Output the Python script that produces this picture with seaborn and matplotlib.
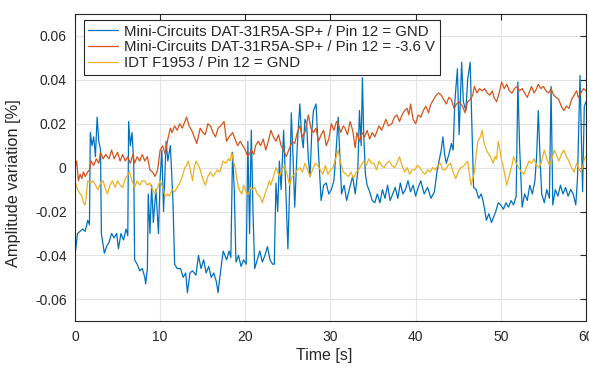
#!/usr/bin/env python3
# -*- coding: utf-8 -*-
"""
Amplitude variation over time for three attenuator configurations
"""

#%% Import modules

import pandas as pd
import seaborn as sns
import matplotlib.pyplot as plt
from matplotlib.ticker import FuncFormatter


#%% Data (time in s, amplitude variation in %)

t_gnd = [0.0, 0.3, 0.6, 0.9, 1.2, 1.5, 1.7, 1.8, 2.0, 2.2, 2.4, 2.6, 2.8, 3.0, 3.1, 3.45, 3.7, 4.0, 4.3, 4.6,
         4.9, 5.1, 5.4, 5.7, 6.0, 6.2, 6.3, 6.5, 6.7, 6.9, 7.0, 7.3, 7.6, 7.9, 8.2, 8.3, 8.5, 8.6, 8.8, 9.0,
         9.2, 9.5, 9.8, 10.0, 10.2, 10.4, 10.7, 10.9, 11.2, 11.5, 11.7, 12.0, 12.4, 12.7, 13.0, 13.2, 13.5, 13.8, 14.2, 14.5,
         14.8, 15.1, 15.4, 15.7, 16.0, 16.3, 16.6, 16.8, 17.1, 17.4, 17.8, 18.1, 18.3, 18.5, 18.7, 18.9, 19.2, 19.5, 19.8, 20.1,
         20.3, 20.5, 20.7, 20.9, 21.1, 21.4, 21.7, 22.0, 22.3, 22.6, 22.9, 23.2, 23.4, 23.6, 23.8, 24.0, 24.2, 24.5, 24.7, 25.0,
         25.2, 25.4, 25.6, 25.8, 26.1, 26.4, 26.6, 26.8, 27.0, 27.2, 27.4, 27.6, 27.8, 28.0, 28.3, 28.6, 28.9, 29.2, 29.5, 29.8,
         30.1, 30.4, 30.7, 30.9, 31.1, 31.3, 31.6, 31.9, 32.2, 32.6, 32.9, 33.2, 33.4, 33.6, 33.75, 33.9, 34.1, 34.3, 34.6, 34.9,
         35.2, 35.5, 35.8, 36.1, 36.4, 36.7, 37.0, 37.3, 37.6, 37.9, 38.2, 38.5, 38.8, 39.1, 39.4, 39.7, 40.0, 40.3, 40.6, 41.0,
         41.4, 41.8, 42.2, 42.5, 42.8, 43.0, 43.2, 43.4, 43.6, 43.9, 44.2, 44.4, 44.6, 44.9, 45.1, 45.4, 45.6, 45.9, 46.1, 46.4,
         46.6, 46.8, 47.1, 47.4, 47.7, 47.9, 48.1, 48.3, 48.6, 48.9, 49.1, 49.4, 49.7, 50.0, 50.3, 50.6, 50.9, 51.2, 51.5, 51.8,
         52.0, 52.2, 52.5, 52.8, 53.1, 53.4, 53.7, 54.0, 54.2, 54.4, 54.6, 54.8, 55.1, 55.4, 55.7, 55.9, 56.1, 56.4, 56.7, 57.0,
         57.3, 57.6, 57.9, 58.2, 58.5, 58.8, 59.0, 59.3, 59.6, 59.8, 60.0]
v_gnd = [-0.040, -0.030, -0.029, -0.028, -0.029, -0.024, -0.026, 0.016, 0.010, 0.014, 0.005, 0.023, 0.012, 0.008, -0.030, -0.039, -0.036, -0.034, -0.030, -0.032,
         -0.030, -0.037, -0.030, -0.033, -0.028, -0.031, 0.021, 0.010, 0.016, 0.002, -0.042, -0.044, -0.047, -0.046, -0.050, -0.053, -0.046, -0.012, -0.030, -0.008,
         -0.025, -0.010, -0.030, -0.005, 0.008, -0.020, 0.012, 0.003, 0.010, -0.015, -0.044, -0.046, -0.046, -0.050, -0.048, -0.057, -0.048, -0.047, -0.049, -0.040,
         -0.046, -0.042, -0.048, -0.045, -0.050, -0.048, -0.052, -0.057, -0.047, -0.038, -0.042, -0.038, -0.041, 0.007, -0.010, -0.043, -0.040, -0.045, -0.042, -0.044,
         0.012, -0.030, 0.017, -0.020, -0.046, -0.042, -0.038, -0.043, -0.040, -0.036, -0.042, -0.044, -0.044, -0.007, -0.020, 0.003, -0.010, 0.017, -0.005, -0.037,
         -0.010, 0.025, 0.005, -0.018, 0.010, 0.029, 0.015, 0.009, 0.022, 0.020, 0.004, -0.004, 0.016, 0.026, 0.029, 0.006, -0.015, -0.008, -0.007, -0.012,
         -0.010, -0.006, 0.010, 0.023, 0.005, -0.012, -0.008, -0.015, -0.010, -0.004, -0.012, -0.002, 0.026, 0.010, 0.041, 0.015, -0.003, -0.008, -0.011, -0.015,
         -0.016, -0.012, -0.016, -0.010, -0.014, -0.008, -0.015, -0.012, -0.009, -0.014, -0.007, -0.012, -0.010, -0.006, -0.011, -0.008, -0.013, -0.009, -0.006, -0.012,
         -0.009, -0.014, -0.011, -0.002, 0.004, 0.008, 0.014, 0.006, 0.002, 0.006, 0.011, 0.008, 0.030, 0.045, 0.015, 0.048, 0.030, 0.026, 0.040, 0.048,
         0.020, -0.009, -0.010, -0.014, -0.012, -0.015, -0.019, -0.024, -0.021, -0.025, -0.023, -0.020, -0.016, -0.017, -0.019, -0.016, -0.018, -0.015, -0.017, -0.013,
         0.039, 0.010, -0.018, -0.012, -0.015, -0.008, -0.012, -0.006, 0.005, 0.026, 0.005, -0.012, -0.016, -0.010, -0.014, 0.037, -0.017, -0.010, -0.013, -0.008,
         -0.012, -0.009, -0.013, -0.010, -0.012, -0.017, -0.005, 0.042, -0.011, 0.028, 0.030]

t_neg = [0.0, 0.2, 0.4, 0.6, 0.8, 1.0, 1.2, 1.5, 1.7, 1.9, 2.2, 2.5, 2.8, 3.0, 3.3, 3.6, 4.0, 4.3, 4.6, 5.0,
         5.3, 5.6, 5.9, 6.2, 6.5, 6.8, 7.0, 7.3, 7.6, 7.9, 8.2, 8.5, 8.8, 9.1, 9.4, 9.7, 10.0, 10.3, 10.6, 10.9,
         11.2, 11.4, 11.7, 12.0, 12.3, 12.6, 12.9, 13.1, 13.4, 13.7, 14.0, 14.3, 14.7, 15.0, 15.3, 15.6, 15.9, 16.2, 16.5, 16.8,
         17.1, 17.5, 17.8, 18.1, 18.5, 18.8, 19.1, 19.4, 19.7, 20.0, 20.3, 20.7, 21.0, 21.2, 21.5, 21.8, 22.1, 22.4, 22.7, 23.0,
         23.3, 23.6, 23.9, 24.2, 24.5, 24.8, 25.2, 25.5, 25.8, 26.1, 26.4, 26.7, 27.0, 27.2, 27.4, 27.7, 28.0, 28.3, 28.6, 28.9,
         29.2, 29.5, 29.8, 30.1, 30.4, 30.7, 30.9, 31.2, 31.5, 31.7, 32.0, 32.3, 32.6, 32.9, 33.1, 33.4, 33.7, 34.0, 34.3, 34.6,
         34.9, 35.2, 35.5, 35.7, 36.0, 36.3, 36.5, 36.8, 37.2, 37.5, 37.8, 38.1, 38.4, 38.7, 39.0, 39.2, 39.4, 39.7, 40.0, 40.3,
         40.6, 40.9, 41.2, 41.5, 41.8, 42.1, 42.4, 42.7, 43.0, 43.3, 43.6, 43.9, 44.2, 44.5, 44.8, 45.1, 45.5, 45.8, 46.1, 46.4,
         46.7, 46.9, 47.2, 47.5, 47.8, 48.1, 48.4, 48.7, 49.0, 49.2, 49.5, 49.8, 50.1, 50.4, 50.7, 51.0, 51.3, 51.6, 51.9, 52.2,
         52.5, 52.8, 53.1, 53.4, 53.6, 53.9, 54.2, 54.4, 54.7, 55.0, 55.3, 55.6, 55.9, 56.2, 56.5, 56.8, 57.1, 57.4, 57.7, 58.0,
         58.3, 58.6, 58.9, 59.1, 59.4, 59.7, 60.0]
v_neg = [0.000, 0.003, -0.006, -0.003, -0.005, -0.002, -0.004, -0.002, -0.001, 0.003, 0.001, 0.004, 0.002, 0.007, 0.004, 0.006, 0.004, 0.008, 0.004, 0.007,
         0.003, 0.006, 0.003, 0.005, 0.002, 0.006, 0.002, 0.005, 0.003, 0.006, 0.003, 0.005, -0.001, -0.002, -0.004, -0.001, 0.008, 0.010, 0.006, 0.013,
         0.018, 0.016, 0.019, 0.017, 0.020, 0.018, 0.021, 0.023, 0.019, 0.017, 0.014, 0.011, 0.018, 0.016, 0.015, 0.020, 0.019, 0.016, 0.014, 0.018,
         0.019, 0.021, 0.012, 0.014, 0.016, 0.013, 0.010, 0.012, 0.010, 0.008, 0.005, 0.008, 0.006, 0.010, 0.012, 0.010, 0.013, 0.008, 0.012, 0.017,
         0.014, 0.012, 0.015, 0.010, 0.008, 0.005, 0.009, 0.012, 0.011, 0.016, 0.019, 0.014, 0.016, 0.020, 0.024, 0.018, 0.016, 0.018, 0.012, 0.015,
         0.017, 0.010, 0.013, 0.020, 0.017, 0.021, 0.020, 0.016, 0.019, 0.018, 0.015, 0.021, 0.017, 0.009, 0.016, 0.012, 0.016, 0.014, 0.017, 0.013,
         0.016, 0.014, 0.017, 0.019, 0.017, 0.020, 0.022, 0.019, 0.020, 0.023, 0.024, 0.021, 0.024, 0.026, 0.027, 0.024, 0.029, 0.022, 0.020, 0.024,
         0.023, 0.026, 0.028, 0.025, 0.029, 0.031, 0.033, 0.034, 0.033, 0.031, 0.029, 0.032, 0.031, 0.027, 0.029, 0.030, 0.028, 0.025, 0.030, 0.031,
         0.033, 0.037, 0.034, 0.036, 0.035, 0.036, 0.034, 0.033, 0.035, 0.032, 0.030, 0.034, 0.039, 0.036, 0.038, 0.035, 0.034, 0.036, 0.037, 0.035,
         0.036, 0.034, 0.032, 0.035, 0.037, 0.034, 0.036, 0.038, 0.036, 0.037, 0.035, 0.034, 0.036, 0.033, 0.032, 0.031, 0.028, 0.026, 0.028, 0.027,
         0.031, 0.033, 0.035, 0.032, 0.034, 0.036, 0.035]

t_idt = [0.0, 0.3, 0.6, 0.8, 1.0, 1.2, 1.4, 1.5, 1.8, 2.1, 2.4, 2.7, 3.0, 3.3, 3.6, 3.8, 4.1, 4.4, 4.7, 5.0,
         5.3, 5.6, 5.9, 6.1, 6.4, 6.7, 7.0, 7.3, 7.6, 7.9, 8.2, 8.5, 8.8, 9.1, 9.4, 9.7, 10.0, 10.3, 10.6, 10.9,
         11.1, 11.4, 11.7, 12.0, 12.3, 12.6, 12.9, 13.1, 13.3, 13.6, 13.8, 14.0, 14.2, 14.5, 14.7, 15.0, 15.3, 15.6, 15.9, 16.2,
         16.4, 16.7, 17.0, 17.4, 17.7, 18.0, 18.2, 18.4, 18.6, 18.8, 19.0, 19.2, 19.4, 19.6, 19.8, 20.0, 20.2, 20.4, 20.6, 20.8,
         21.1, 21.4, 21.7, 22.0, 22.3, 22.6, 22.8, 23.0, 23.3, 23.6, 23.8, 24.0, 24.3, 24.6, 24.9, 25.2, 25.5, 25.8, 26.1, 26.4,
         26.7, 27.0, 27.3, 27.6, 27.9, 28.2, 28.5, 28.8, 29.1, 29.4, 29.7, 30.0, 30.3, 30.6, 30.9, 31.2, 31.5, 31.8, 32.1, 32.4,
         32.7, 33.0, 33.3, 33.6, 33.9, 34.2, 34.5, 34.8, 35.1, 35.4, 35.7, 36.0, 36.3, 36.6, 36.9, 37.2, 37.5, 37.8, 38.1, 38.4,
         38.7, 39.0, 39.3, 39.6, 39.9, 40.2, 40.5, 40.8, 41.1, 41.4, 41.7, 42.0, 42.3, 42.6, 42.9, 43.2, 43.5, 43.8, 44.1, 44.4,
         44.7, 45.0, 45.3, 45.7, 46.1, 46.5, 46.9, 47.1, 47.3, 47.6, 47.8, 48.0, 48.3, 48.6, 48.9, 49.1, 49.3, 49.5, 49.7, 49.9,
         50.1, 50.3, 50.5, 50.7, 50.9, 51.1, 51.3, 51.5, 51.8, 52.1, 52.4, 52.7, 53.0, 53.3, 53.6, 53.9, 54.2, 54.5, 54.8, 55.1,
         55.4, 55.7, 56.0, 56.3, 56.6, 56.8, 57.1, 57.4, 57.7, 58.0, 58.3, 58.6, 58.9, 59.1, 59.4, 59.6, 59.8, 60.0]
v_idt = [-0.006, -0.010, -0.012, -0.013, -0.016, -0.017, -0.010, -0.006, -0.007, -0.006, -0.008, -0.010, -0.007, -0.006, -0.010, -0.012, -0.008, -0.006, -0.009, -0.006,
         -0.008, -0.009, -0.005, -0.004, -0.002, -0.006, -0.009, -0.006, -0.008, -0.006, -0.006, -0.008, -0.007, -0.010, -0.012, -0.009, -0.006, -0.009, -0.013, -0.012,
         -0.013, -0.010, -0.011, -0.009, -0.007, -0.004, 0.000, 0.001, 0.003, -0.002, -0.006, 0.000, 0.003, 0.001, -0.001, -0.005, -0.008, -0.004, -0.002, -0.004,
         -0.003, -0.001, -0.002, 0.003, 0.002, 0.004, 0.003, 0.007, 0.003, 0.000, -0.005, -0.009, -0.011, -0.012, -0.008, -0.010, -0.012, -0.012, -0.009, -0.010,
         -0.009, -0.012, -0.013, -0.016, -0.012, -0.009, -0.006, -0.008, -0.004, 0.000, -0.002, -0.004, -0.001, 0.001, -0.003, -0.008, -0.004, -0.003, -0.001, 0.000,
         -0.002, 0.002, -0.001, -0.004, -0.001, 0.002, 0.001, -0.001, -0.003, 0.001, -0.003, -0.001, 0.000, 0.004, 0.008, 0.002, -0.002, -0.003, -0.004, -0.002,
         -0.005, -0.002, -0.001, 0.001, 0.003, 0.001, 0.004, 0.002, 0.002, -0.001, 0.003, 0.001, 0.000, 0.002, 0.003, 0.001, 0.000, 0.002, 0.005, 0.001,
         -0.002, 0.000, -0.003, -0.001, -0.001, 0.001, 0.000, -0.002, -0.003, -0.001, -0.002, 0.000, -0.001, 0.001, 0.002, -0.001, -0.001, 0.001, 0.002, -0.002,
         -0.005, -0.002, 0.000, 0.001, 0.003, -0.008, -0.002, 0.006, 0.012, 0.014, 0.017, 0.012, 0.008, 0.006, 0.004, 0.002, 0.005, 0.004, 0.012, 0.008,
         0.003, 0.000, -0.004, -0.008, -0.005, -0.002, 0.001, 0.005, 0.002, 0.000, -0.002, -0.003, 0.000, 0.003, 0.002, 0.004, 0.001, 0.000, 0.003, 0.008,
         0.004, 0.001, 0.004, 0.008, 0.005, 0.003, 0.006, 0.008, 0.005, 0.003, 0.000, -0.002, 0.002, 0.000, -0.002, 0.000, 0.004, 0.005]

labels = ['Mini-Circuits DAT-31R5A-SP+ / Pin 12 = GND',
          'Mini-Circuits DAT-31R5A-SP+ / Pin 12 = -3.6 V',
          'IDT F1953 / Pin 12 = GND']
colors = ['#0072BD', '#D95319', '#EDB120']

series = [(t_gnd, v_gnd), (t_neg, v_neg), (t_idt, v_idt)]


#%% Plot

sns.set_style('white')
plt.rcParams['font.family'] = ['Liberation Sans', 'DejaVu Sans']
plt.rcParams['axes.unicode_minus'] = False

fig = plt.figure(figsize=(5.89, 3.68), dpi=100)
ax = fig.add_axes([0.1273, 0.127, 0.8676, 0.835])

for (t, v), lab, col in zip(series, labels, colors):
    df = pd.DataFrame({'time': t, 'amp': v})
    sns.lineplot(data=df, x='time', y='amp', ax=ax, color=col, label=lab,
                 linewidth=0.9, sort=False, estimator=None)

ax.set_xlim(0, 60)
ax.set_ylim(-0.07, 0.07)
ax.set_xticks([0, 10, 20, 30, 40, 50, 60])
ax.set_yticks([-0.06, -0.04, -0.02, 0, 0.02, 0.04, 0.06])
ax.yaxis.set_major_formatter(FuncFormatter(lambda v, p: '0' if abs(v) < 1e-9 else f'{v:g}'))
ax.grid(True, color='#e3e3e3', linewidth=0.8)
ax.set_axisbelow(True)
ax.tick_params(direction='in', length=4, width=0.8, colors='#262626', labelsize=10,
               top=True, right=True, pad=6)
for sp in ax.spines.values():
    sp.set_color('#262626')
    sp.set_linewidth(0.8)

ax.set_xlabel('Time [s]', fontsize=11.5, color='#262626')
ax.set_ylabel('Amplitude variation [%]', fontsize=11.8, color='#262626')
ax.xaxis.set_label_coords(0.488, -0.088)
ax.yaxis.set_label_coords(-0.106, 0.45)

leg = ax.legend(loc='upper left', bbox_to_anchor=(0.0176, 0.98), borderaxespad=0,
                fontsize=10.8, frameon=True, fancybox=False, edgecolor='#262626',
                handlelength=2.0, handletextpad=0.4, labelspacing=0.12,
                borderpad=0.3, framealpha=1)
leg.get_frame().set_linewidth(0.8)

fig.savefig('out.png', dpi=100)
